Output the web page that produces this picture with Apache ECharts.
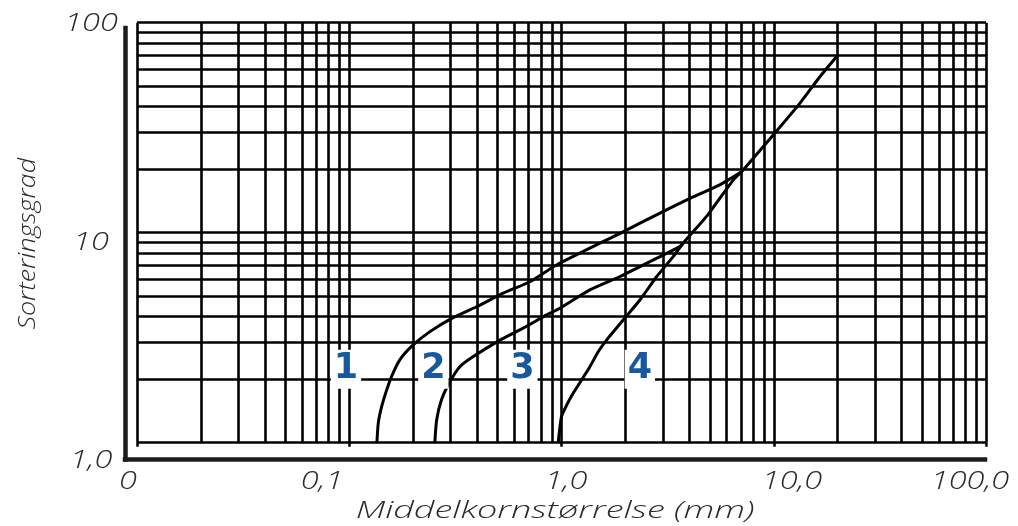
<!DOCTYPE html>
<html>
<head>
<meta charset="utf-8">
<script src="https://cdn.jsdelivr.net/npm/echarts@6.0.0/dist/echarts.min.js"></script>
<style>
  html, body { margin: 0; padding: 0; background: #fff; }
  #chart { width: 1018px; height: 526px; }
</style>
</head>
<body>
<div id="chart"></div>
<script>
// Mean grain size (mm) against sorting degree, both on log scales.

const xTickValues = [0.01, 0.1, 1, 10, 100];
const xTickLabels = ['0', '0,1', '1,0', '10,0', '100,0'];
const yTickValues = [1, 10, 100];
const yTickLabels = ['1,0', '10', '100'];
const xTitle = 'Middelkornstørrelse (mm)';
const yTitle = 'Sorteringsgrad';

// Boundary curves [grain size mm, sorting degree]
const curveA = [[0.135, 1.0], [0.137, 1.24], [0.142, 1.48], [0.150, 1.78], [0.158, 2.06], [0.173, 2.48],
  [0.200, 2.92], [0.240, 3.38], [0.304, 3.91], [0.398, 4.44], [0.531, 5.15], [0.71, 5.84], [0.948, 7.02],
  [1.95, 10.1], [2.91, 12.4], [4.17, 14.8], [5.57, 16.9], [7.05, 19.5]];
const curveB = [[0.253, 1.0], [0.258, 1.28], [0.272, 1.60], [0.298, 1.95], [0.332, 2.30], [0.384, 2.57],
  [0.513, 3.08], [0.66, 3.51], [0.851, 4.06], [0.983, 4.37], [1.36, 5.34], [1.88, 6.17], [2.91, 7.69],
  [3.61, 8.58], [3.74, 8.9]];
const curveC = [[0.965, 1.0], [1.0, 1.33], [1.057, 1.51], [1.135, 1.72], [1.244, 1.99], [1.36, 2.30],
  [1.489, 2.71], [1.63, 3.08], [1.953, 3.84], [2.34, 4.78], [2.805, 6.17], [3.36, 7.69], [3.74, 8.9],
  [4.9, 12.2], [6.44, 17.8], [7.05, 19.5], [9.94, 29.2], [13.27, 41.3], [16.49, 55.3], [19.76, 68.9]];

// Zone numbers and their anchor points
const zoneNames = ['1', '2', '3', '4'];
const zoneX = [0.0965, 0.249, 0.654, 2.34];
const zoneY = [2.24, 2.24, 2.24, 2.24];
// Blank white patch in the grid
const blankPatch = [[0.031, 2.18]];

// Log-paper grid: 1..9 within every decade
const steps = [1, 2, 3, 4, 5, 6, 7, 8, 9];
const xGrid = [];
[0.01, 0.1, 1, 10].forEach(d => steps.forEach(s => xGrid.push(+(d * s).toPrecision(3))));
xGrid.push(100);
const yGrid = [];
[1, 10].forEach(d => steps.forEach(s => yGrid.push(+(d * s).toPrecision(3))));
yGrid.push(100);

const ink = '#2a2a2a';
const lightItalic = { fontFamily: 'Open Sans', fontStyle: 'italic', fontWeight: 300, fill: ink };

const chart = echarts.init(document.getElementById('chart'), null, { renderer: 'canvas' });

const hiddenAxis = {
  axisLine: { show: false }, axisTick: { show: false },
  axisLabel: { show: false }, splitLine: { show: false }
};
const frameAxis = {
  axisLine: { show: true, lineStyle: { color: '#1c1c1c', width: 4.5, cap: 'square' } },
  axisTick: { show: false }, axisLabel: { show: false }, splitLine: { show: false }
};

chart.setOption({
  animation: false,
  backgroundColor: '#fff',
  grid: [
    { left: 137, top: 22.7, width: 849, height: 420 },   // log paper
    { left: 125, top: 28, width: 860, height: 431.5 }    // outer L frame
  ],
  xAxis: [
    Object.assign({}, hiddenAxis, {
      gridIndex: 0, type: 'log', logBase: 10, min: 0.01, max: 100,
      axisTick: { show: true, length: 4, lineStyle: { color: '#000', width: 2.5 } }
    }),
    Object.assign({}, frameAxis, { gridIndex: 1, type: 'log', logBase: 10, min: 0.01, max: 100 })
  ],
  yAxis: [
    Object.assign({}, hiddenAxis, { gridIndex: 0, type: 'log', logBase: 10, min: 1, max: 100 }),
    Object.assign({}, frameAxis, { gridIndex: 1, type: 'log', logBase: 10, min: 1, max: 100 })
  ],
  series: [
    {
      name: 'grid',
      type: 'line',
      xAxisIndex: 0, yAxisIndex: 0,
      data: [],
      z: 1,
      silent: true,
      markLine: {
        silent: true,
        symbol: ['none', 'none'],
        label: { show: false },
        lineStyle: { color: '#000', width: 2.6, type: 'solid', opacity: 1 },
        emphasis: { disabled: true },
        data: xGrid.map(v => ({ xAxis: v })).concat(yGrid.map(v => ({ yAxis: v })))
      }
    },
    ...[curveA, curveB, curveC].map(c => ({
      type: 'line',
      xAxisIndex: 0, yAxisIndex: 0,
      data: c,
      showSymbol: false,
      symbol: 'none',
      smooth: 0.2,
      z: 3,
      silent: true,
      lineStyle: { color: '#000', width: 3 }
    })),
    {
      type: 'scatter',
      xAxisIndex: 0, yAxisIndex: 0,
      data: blankPatch,
      symbol: 'rect',
      symbolSize: [21, 27],
      itemStyle: { color: '#fff', opacity: 1 },
      z: 4,
      silent: true
    },
    {
      type: 'scatter',
      xAxisIndex: 0, yAxisIndex: 0,
      data: zoneNames.map((n, i) => ({ name: n, value: [zoneX[i], zoneY[i]] })),
      symbol: 'rect',
      symbolSize: 1,
      itemStyle: { color: '#fff', opacity: 1 },
      z: 5,
      silent: true,
      label: {
        show: true,
        position: 'inside',
        formatter: '{b}',
        fontFamily: 'DejaVu Sans',
        fontWeight: 'bold',
        fontSize: 35,
        color: '#17589f',
        opacity: 1,
        backgroundColor: '#fff',
        padding: [3, 3, 1, 3]
      }
    }
  ]
});

// Tick labels and axis titles: wide light italic lettering, placed through the frame axes.
const px = v => chart.convertToPixel({ xAxisIndex: 1 }, v);
const py = v => chart.convertToPixel({ yAxisIndex: 1 }, v);
const xLabelNudge = [3, -18, 11, 22, -15];
const yLabelNudge = [1, -1, -4];
const baseY = py(1);
const baseX = px(0.01);
const texts = [];

xTickValues.forEach((v, i) => texts.push({
  type: 'text', x: px(v) + xLabelNudge[i], y: baseY + 22, scaleX: 1.3, z: 10,
  style: Object.assign({ text: xTickLabels[i], fontSize: 25, align: 'center', verticalAlign: 'middle' }, lightItalic)
}));
yTickValues.forEach((v, i) => texts.push({
  type: 'text', x: baseX - 34, y: py(v) + yLabelNudge[i], scaleX: 1.3, z: 10,
  style: Object.assign({ text: yTickLabels[i], fontSize: 25, align: 'center', verticalAlign: 'middle' }, lightItalic)
}));
texts.push({
  type: 'text', x: (px(0.01) + px(100)) / 2, y: baseY + 52, scaleX: 1.5, z: 10,
  style: Object.assign({ text: xTitle, fontSize: 24, align: 'center', verticalAlign: 'middle' }, lightItalic)
});
texts.push({
  type: 'text', x: baseX - 97, y: (py(1) + py(100)) / 2, rotation: Math.PI / 2, scaleX: 1.12, z: 10,
  style: Object.assign({ text: yTitle, fontSize: 24, align: 'center', verticalAlign: 'middle' }, lightItalic)
});

chart.setOption({ graphic: { elements: texts } });
</script>
</body>
</html>
